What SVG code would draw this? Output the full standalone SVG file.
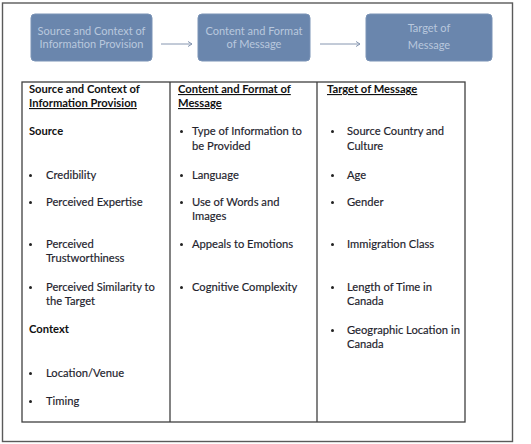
<svg xmlns="http://www.w3.org/2000/svg" width="531" height="444" viewBox="0 0 531 444">
<style>
.frame{fill:#fff;stroke:#5a5a5a;stroke-width:1.4}
.box{fill:#6a86ad;stroke:#7a93b6;stroke-width:1}
.bt{font-family:Lato,"Liberation Sans",sans-serif;font-size:11px;fill:#b9c8dd;text-anchor:middle}
.conn{stroke:#8696b0;stroke-width:1;fill:none}
.tbl{fill:none;stroke:#404040;stroke-width:1.3}
.h{font-family:Lato,"Liberation Sans",sans-serif;font-size:11.2px;font-weight:bold;fill:#111}
.u{text-decoration:underline}
.i{font-family:Lato,"Liberation Sans",sans-serif;font-size:11.2px;fill:#22222c;stroke:#22222c;stroke-width:0.15}
.b{fill:#222}
</style>
<defs>
<marker id="arr" markerWidth="8" markerHeight="8" refX="6" refY="4" orient="auto" markerUnits="userSpaceOnUse">
<path d="M2,1.5 L6,4 L2,6.5" fill="none" stroke="#8696b0" stroke-width="1"/>
</marker>
</defs>
<rect class="frame" x="2.5" y="3" width="510" height="438.5"/>
<g id="node-source">
<rect class="box" x="31" y="14" width="121" height="47" rx="4"/>
<text class="bt" x="91.5" y="35">Source and Context of</text>
<text class="bt" x="91.5" y="48">Information Provision</text>
</g>
<g id="node-content">
<rect class="box" x="198" y="14" width="112" height="47" rx="4"/>
<text class="bt" x="254" y="35">Content and Format</text>
<text class="bt" x="254" y="48">of Message</text>
</g>
<g id="node-target">
<rect class="box" x="366" y="14" width="126" height="47" rx="4"/>
<text class="bt" x="429" y="32">Target of</text>
<text class="bt" x="429" y="49">Message</text>
</g>
<g id="connectors">
<line class="conn" x1="161" y1="44" x2="192" y2="44" marker-end="url(#arr)"/>
<line class="conn" x1="320" y1="44" x2="360" y2="44" marker-end="url(#arr)"/>
</g>
<g id="table">
<rect class="tbl" x="22" y="82" width="443" height="340"/>
<line class="tbl" x1="170" y1="82" x2="170" y2="422"/>
<line class="tbl" x1="317" y1="82" x2="317" y2="422"/>
</g>
<g id="col-source">
<text class="h" x="29" y="93">Source and Context of</text>
<text class="h u" x="29" y="107">Information Provision</text>
<text class="h" x="29" y="135">Source</text>
<circle class="b" cx="30.5" cy="175.5" r="1.5"/><text class="i" x="46" y="179">Credibility</text>
<circle class="b" cx="30.5" cy="202.5" r="1.5"/><text class="i" x="46" y="206">Perceived Expertise</text>
<circle class="b" cx="30.5" cy="244.5" r="1.5"/><text class="i" x="46" y="248">Perceived</text>
<text class="i" x="46" y="262">Trustworthiness</text>
<circle class="b" cx="30.5" cy="287.5" r="1.5"/><text class="i" x="46" y="291">Perceived Similarity to</text>
<text class="i" x="46" y="305">the Target</text>
<text class="h" x="29" y="333">Context</text>
<circle class="b" cx="30.5" cy="373.5" r="1.5"/><text class="i" x="46" y="377">Location/Venue</text>
<circle class="b" cx="30.5" cy="401.5" r="1.5"/><text class="i" x="46" y="405">Timing</text>
</g>
<g id="col-content">
<text class="h u" x="178" y="93">Content and Format of</text>
<text class="h u" x="178" y="107">Message</text>
<circle class="b" cx="181.5" cy="131.5" r="1.5"/><text class="i" x="192" y="135">Type of Information to</text>
<text class="i" x="192" y="150">be Provided</text>
<circle class="b" cx="181.5" cy="175.5" r="1.5"/><text class="i" x="192" y="179">Language</text>
<circle class="b" cx="181.5" cy="202.5" r="1.5"/><text class="i" x="192" y="206">Use of Words and</text>
<text class="i" x="192" y="220">Images</text>
<circle class="b" cx="181.5" cy="244.5" r="1.5"/><text class="i" x="192" y="248">Appeals to Emotions</text>
<circle class="b" cx="181.5" cy="287.5" r="1.5"/><text class="i" x="192" y="291">Cognitive Complexity</text>
</g>
<g id="col-target">
<text class="h u" x="327" y="93">Target of Message</text>
<circle class="b" cx="332.5" cy="131.5" r="1.5"/><text class="i" x="347" y="135">Source Country and</text>
<text class="i" x="347" y="150">Culture</text>
<circle class="b" cx="332.5" cy="175.5" r="1.5"/><text class="i" x="347" y="179">Age</text>
<circle class="b" cx="332.5" cy="202.5" r="1.5"/><text class="i" x="347" y="206">Gender</text>
<circle class="b" cx="332.5" cy="244.5" r="1.5"/><text class="i" x="347" y="248">Immigration Class</text>
<circle class="b" cx="332.5" cy="287.5" r="1.5"/><text class="i" x="347" y="291">Length of Time in</text>
<text class="i" x="347" y="305">Canada</text>
<circle class="b" cx="332.5" cy="330.5" r="1.5"/><text class="i" x="347" y="334">Geographic Location in</text>
<text class="i" x="347" y="348">Canada</text>
</g>
</svg>
